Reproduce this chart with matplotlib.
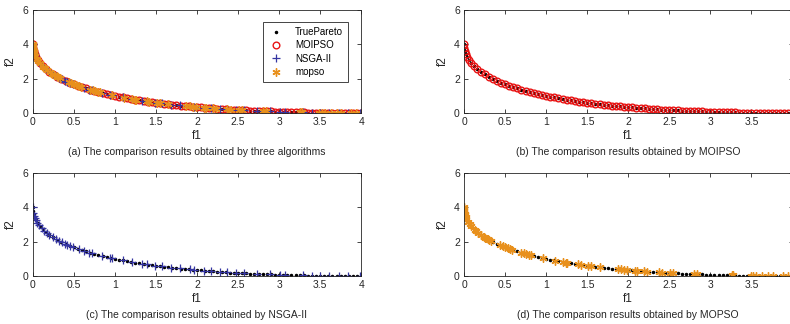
import matplotlib
matplotlib.use("Agg")
import matplotlib.pyplot as plt

plt.rcParams["font.family"] = ["Liberation Sans", "DejaVu Sans"]

# reference Pareto front samples
pareto_f1 = [0.0, 0.0025, 0.01, 0.0225, 0.04, 0.0625, 0.09, 0.1225, 0.16, 0.2025, 0.25,
             0.30, 0.35, 0.40, 0.45, 0.50, 0.55, 0.60, 0.65, 0.70, 0.75, 0.80, 0.85, 0.90, 0.95,
             1.00, 1.05, 1.10, 1.15, 1.20, 1.25, 1.30, 1.35, 1.40, 1.45, 1.50, 1.55, 1.60, 1.65,
             1.70, 1.75, 1.80, 1.85, 1.90, 1.95, 2.00, 2.05, 2.10, 2.15, 2.20, 2.25, 2.30, 2.35,
             2.40, 2.45, 2.50, 2.55, 2.60, 2.65, 2.70, 2.75, 2.80, 2.85, 2.90, 2.95, 3.00, 3.05,
             3.10, 3.15, 3.20, 3.25, 3.30, 3.35, 3.40, 3.45, 3.50, 3.55, 3.60, 3.65, 3.70, 3.75,
             3.80, 3.85, 3.90, 3.95, 4.00]
pareto_f2 = [4.0, 3.80, 3.61, 3.42, 3.24, 3.06, 2.89, 2.72, 2.56, 2.40, 2.25,
             2.11, 1.98, 1.87, 1.77, 1.67, 1.58, 1.50, 1.43, 1.35, 1.29, 1.22, 1.16, 1.11, 1.05,
             1.000, 0.951, 0.905, 0.860, 0.818, 0.778, 0.739, 0.702, 0.667, 0.633, 0.601, 0.570,
             0.540, 0.512, 0.485, 0.458, 0.433, 0.409, 0.386, 0.364, 0.343, 0.323, 0.303, 0.285,
             0.267, 0.250, 0.234, 0.218, 0.203, 0.189, 0.175, 0.163, 0.150, 0.138, 0.127, 0.117,
             0.107, 0.097, 0.088, 0.080, 0.072, 0.064, 0.057, 0.051, 0.045, 0.039, 0.034, 0.029,
             0.024, 0.020, 0.017, 0.013, 0.011, 0.008, 0.006, 0.004, 0.003, 0.001, 0.001, 0.000,
             0.0]

# MOIPSO archive covers the front at the same density
moipso_f1 = list(pareto_f1)
moipso_f2 = list(pareto_f2)

nsga_f1 = [0.0, 0.008, 0.016, 0.028, 0.04, 0.056, 0.08, 0.11, 0.14, 0.17, 0.20, 0.25, 0.28,
           0.32, 0.36, 0.39, 0.42, 0.46, 0.49, 0.56, 0.62, 0.69, 0.72, 0.84, 0.94, 0.96, 1.10,
           1.21, 1.33, 1.39, 1.49, 1.57, 1.69, 1.79, 1.91, 1.96, 2.08, 2.17, 2.28, 2.36, 2.48,
           2.57, 2.73, 2.89, 3.01, 3.07, 3.29, 3.40, 3.50, 3.61, 3.73, 3.84, 3.99]
nsga_f2 = [4.0, 3.650, 3.510, 3.359, 3.240, 3.109, 2.949, 2.783, 2.643, 2.521, 2.411, 2.250,
           2.163, 2.057, 1.960, 1.892, 1.828, 1.747, 1.690, 1.567, 1.470, 1.367, 1.326, 1.174,
           1.062, 1.041, 0.905, 0.810, 0.717, 0.674, 0.607, 0.558, 0.490, 0.438, 0.382, 0.360,
           0.311, 0.278, 0.240, 0.215, 0.181, 0.158, 0.121, 0.090, 0.070, 0.062, 0.035, 0.024,
           0.017, 0.010, 0.005, 0.002, 0.0]

mopso_f1 = [0.0, 0.001, 0.003, 0.006, 0.01, 0.015, 0.02, 0.03, 0.05, 0.07, 0.09, 0.13, 0.15,
            0.17, 0.21, 0.24, 0.26, 0.29, 0.31, 0.33, 0.44, 0.47, 0.50, 0.53, 0.56, 0.59, 0.70,
            0.73, 0.76, 0.79, 0.82, 0.96, 1.11, 1.21, 1.24, 1.26, 1.39, 1.42, 1.51, 1.55, 1.65,
            1.87, 1.91, 1.95, 1.99, 2.08, 2.11, 2.19, 2.23, 2.37, 2.41, 2.51, 2.55, 2.80, 2.84,
            3.26, 3.28, 3.49, 3.52, 3.56, 3.63, 3.70, 3.76, 3.88, 3.94]
mopso_f2 = [4.0, 3.875, 3.784, 3.696, 3.610, 3.525, 3.454, 3.337, 3.156, 3.012, 2.890, 2.688,
            2.601, 2.521, 2.377, 2.280, 2.220, 2.136, 2.083, 2.032, 1.787, 1.728, 1.672, 1.618,
            1.567, 1.518, 1.353, 1.312, 1.273, 1.235, 1.198, 1.041, 0.896, 0.810, 0.786, 0.770,
            0.674, 0.653, 0.595, 0.570, 0.512, 0.400, 0.382, 0.364, 0.347, 0.311, 0.300, 0.270,
            0.257, 0.212, 0.200, 0.173, 0.163, 0.107, 0.099, 0.038, 0.036, 0.017, 0.015, 0.013,
            0.009, 0.006, 0.004, 0.001, 0.000]

x_ticks = [0, 0.5, 1, 1.5, 2, 2.5, 3, 3.5, 4]
x_ticklabels = ["0", "0.5", "1", "1.5", "2", "2.5", "3", "3.5", "4"]
y_ticks = [0, 2, 4, 6]

captions = [
    "(a) The comparison results obtained by three algorithms",
    "(b) The comparison results obtained by MOIPSO",
    "(c) The comparison results obtained by NSGA-II",
    "(d) The comparison results obtained by MOPSO",
]

AX_GREY = "#262626"
RED = "#e81414"
BLUE = "#3535a2"
ORANGE = "#e8901c"
ASTERISK = (6, 2, 0)


def draw_true(ax):
    ax.plot(pareto_f1, pareto_f2, ".", color="black", markersize=3, label="TruePareto")


def draw_moipso(ax):
    ax.plot(moipso_f1, moipso_f2, "o", mfc="none", mec=RED, mew=1.0, markersize=4.8,
            label="MOIPSO")


def draw_nsga(ax):
    ax.plot(nsga_f1, nsga_f2, "+", color=BLUE, mew=0.9, markersize=6, label="NSGA-II")


def draw_mopso(ax):
    ax.plot(mopso_f1, mopso_f2, ls="none", marker=ASTERISK, color=ORANGE, mew=1.0,
            markersize=5.8, label="mopso")


def style(ax, caption, last_label=True):
    ax.set_xlim(0, 4)
    ax.set_ylim(0, 6)
    ax.set_xticks(x_ticks)
    # the right-hand panels run into the figure edge, so their "4" is not shown
    labels = x_ticklabels if last_label else x_ticklabels[:-1] + [""]
    ax.set_xticklabels(labels)
    ax.set_yticks(y_ticks)
    ax.tick_params(direction="in", top=True, right=True, length=3, width=0.6,
                   labelsize=7.5, colors=AX_GREY, pad=3)
    for sp in ax.spines.values():
        sp.set_linewidth(0.6)
        sp.set_color(AX_GREY)
    ax.set_xlabel("f1", fontsize=8.5, color=AX_GREY, labelpad=2)
    ax.set_ylabel("f2", fontsize=8.5, color=AX_GREY, labelpad=4)
    ax.text(0.5, -0.38, caption, transform=ax.transAxes, ha="center", va="center",
            fontsize=7.5, color=AX_GREY)


fig = plt.figure(figsize=(7.9, 3.24), dpi=100)
W, H = 790, 324
boxes = [(32.7, 10), (464, 10), (32.7, 173), (464, 173)]
axes = []
for left, top in boxes:
    width, height = 328.5, 103
    axes.append(fig.add_axes([left / W, 1 - (top + height) / H, width / W, height / H]))

ax_a, ax_b, ax_c, ax_d = axes

draw_true(ax_a)
draw_moipso(ax_a)
draw_nsga(ax_a)
draw_mopso(ax_a)
leg = ax_a.legend(loc="upper right", fontsize=7, frameon=True, fancybox=False,
                  edgecolor=AX_GREY, framealpha=1, borderpad=0.5, labelspacing=0.35,
                  handlelength=1.6, handletextpad=1.2, bbox_to_anchor=(0.975, 0.93))
leg.get_frame().set_linewidth(0.6)

draw_true(ax_b)
draw_moipso(ax_b)

draw_true(ax_c)
draw_nsga(ax_c)

draw_true(ax_d)
draw_mopso(ax_d)

for i, (ax, cap) in enumerate(zip(axes, captions)):
    style(ax, cap, last_label=(i % 2 == 0))

fig.savefig("out.png", dpi=100)
